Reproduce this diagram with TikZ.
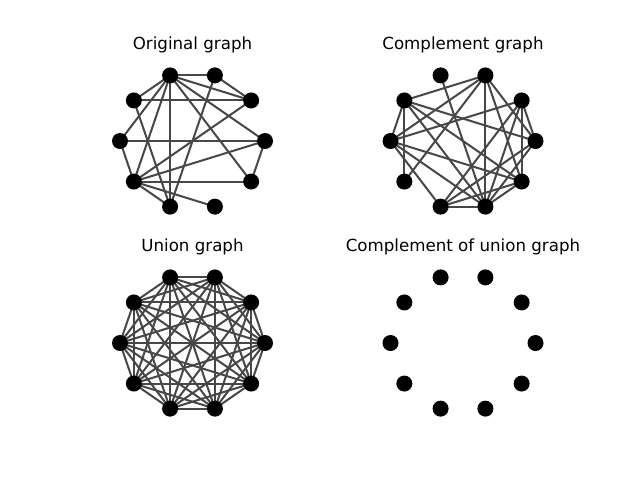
\documentclass[tikz,border=0pt]{standalone}
\usepackage{fontspec}
\setmainfont{DejaVu Sans}
\usetikzlibrary{backgrounds}
\begin{document}
\begin{tikzpicture}[x=0.75pt,y=-0.75pt,
  vtx/.style={circle,fill=black,inner sep=0pt,minimum size=12pt},
  edge/.style={draw=black!72,line width=1.5pt},
  ttl/.style={font=\fontsize{12.5}{15}\selectfont,anchor=base}]
\useasboundingbox (0,0) rectangle (640,480);
\def\orig{3/0,3/1,3/2,3/4,3/5,3/6,3/7,3/9,2/1,2/7,4/1,4/7,5/0,5/6,6/0,6/1,6/7,6/8,6/9,0/9}
\def\comp{0/1,0/2,0/4,0/7,0/8,1/5,1/7,1/8,1/9,2/0,2/4,2/5,2/6,2/8,2/9,3/8,4/5,4/6,4/8,4/9,5/7,5/8,5/9,7/8,7/9,8/9}
% panels: name/cx/cy
\foreach \p/\cx/\cy in {a/192.5/141,b/463/141,c/192.5/343,d/463/343}{
  \foreach \i in {0,...,9}{
    \node[vtx] (\p\i) at ({\cx+72.5*cos(36*\i)},{\cy-69*sin(36*\i)}) {};
  }
}
\node[ttl] (ta) at (192.5,49) {Original graph};
\node[ttl] (tb) at (463,49) {Complement graph};
\node[ttl] (tc) at (192.5,251) {Union graph};
\node[ttl] (td) at (463,251) {Complement of union graph};
\begin{scope}[on background layer]
\foreach \u/\v in \orig {\draw[edge] (a\u.center) -- (a\v.center);}
\foreach \u in {0,...,9}{
  \foreach \v in {0,...,9}{
    \ifnum\u<\v \draw[edge] (c\u.center) -- (c\v.center);\fi
  }
}
\foreach \u/\v in {0/1,0/2,0/4,0/7,0/8,1/5,1/7,1/8,1/9,2/4,2/5,2/6,2/8,2/9,3/8,4/5,4/6,4/8,4/9,5/7,5/8,5/9,7/8,7/9,8/9}
  {\draw[edge] (b\u.center) -- (b\v.center);}
\end{scope}
\end{tikzpicture}
\end{document}
